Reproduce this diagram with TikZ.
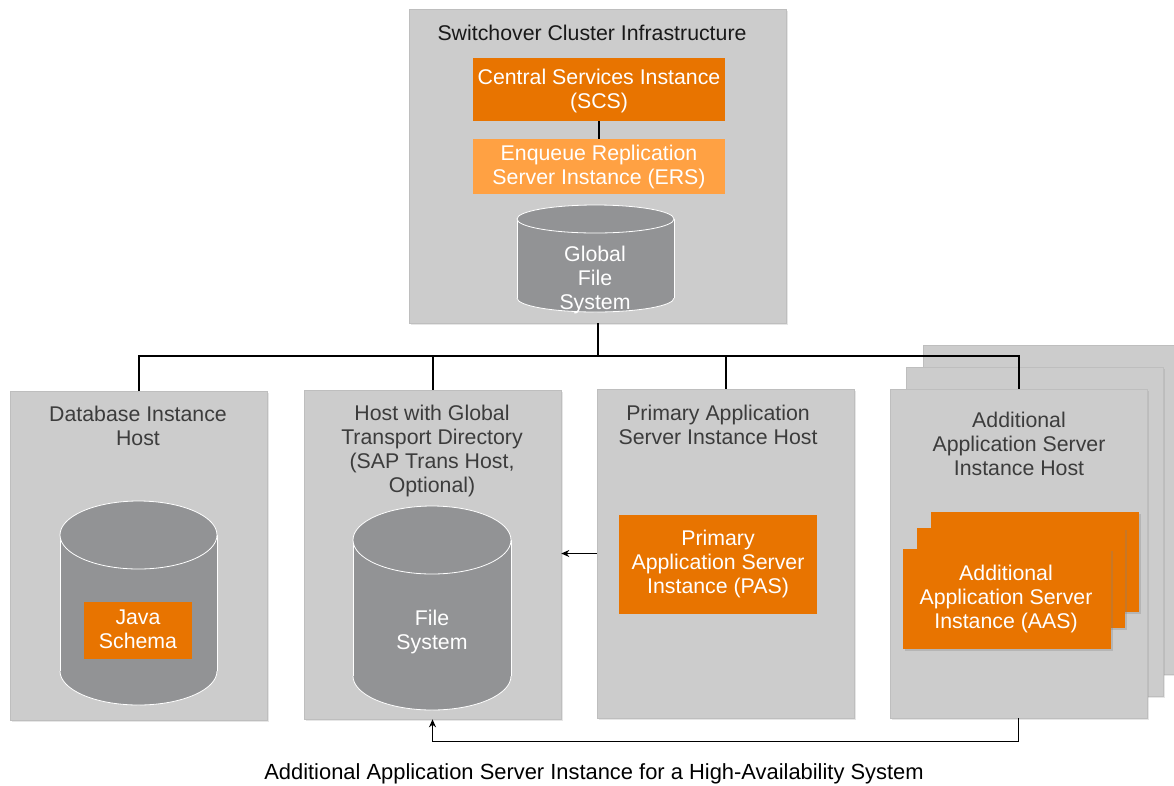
\documentclass[tikz,border=0pt]{standalone}
\usepackage{fontspec}
\setmainfont{Liberation Sans}
\usetikzlibrary{arrows.meta,shadows}
\definecolor{boxgray}{HTML}{CCCCCC}
\definecolor{boxedge}{HTML}{BEBEBE}
\definecolor{cylgray}{HTML}{929395}
\definecolor{orangeD}{HTML}{E87400}
\definecolor{orangeL}{HTML}{FFA143}
\definecolor{titlegray}{HTML}{3C3C3C}
\newcommand\cylshape[5]{%
  \fill[cylgray] (#1,#3) rectangle (#2,#4);
  \fill[cylgray] ({(#1+#2)/2},#4) ellipse [x radius={(#2-#1)/2}, y radius=#5];
  \begin{scope}
    \clip (#1-3,#4) rectangle (#2+3,#4+#5+3);
    \draw[white,line width=0.8pt] ({(#1+#2)/2},#4) ellipse [x radius={(#2-#1)/2}, y radius=#5];
  \end{scope}
  \draw[white,line width=0.8pt] (#1,#3) -- (#1,#4) (#2,#3) -- (#2,#4);
  \filldraw[fill=cylgray,draw=white,line width=0.8pt] ({(#1+#2)/2},#3) ellipse [x radius={(#2-#1)/2}, y radius=#5];
}
\tikzset{
  txt/.style={font=\fontsize{21.3}{24}\selectfont, align=center, inner sep=0pt},
  hostbox/.style={fill=boxgray, draw=boxedge, line width=0.6pt, minimum width=257pt, minimum height=329pt, inner sep=0pt,
    drop shadow={opacity=0.2, shadow xshift=1.5pt, shadow yshift=-1.5pt}},
  orbox/.style={fill=orangeD, inner sep=0pt, text=white},
  stackbox/.style={fill=orangeD, inner sep=0pt, minimum width=208pt, minimum height=100pt,
    drop shadow={opacity=0.3, shadow xshift=2pt, shadow yshift=-2pt}},
  conn/.style={line width=2pt, black},
  arr/.style={line width=1.6pt, black, -{Stealth[length=8pt,width=7pt]}},
}
\begin{document}
\begin{tikzpicture}[x=1pt,y=-1pt]
\useasboundingbox (0,0) rectangle (1174,785);
% top cluster box
\node[hostbox, minimum width=377pt, minimum height=314pt] (top) at (597.5,166) {};
\node[txt, text=black!90] (toptitle) at (592,33) {Switchover Cluster Infrastructure};
\node[orbox, minimum width=252pt, minimum height=63pt] (scs) at (599,89.5) {};
\node[txt, text=white] (scst) at (599,91) {Central Services Instance\\(SCS)};
\node[fill=orangeL, inner sep=0pt, minimum width=252pt, minimum height=55pt] (ers) at (599,166.5) {};
\node[txt, text=white] (erst) at (599,167) {Enqueue Replication\\Server Instance (ERS)};
\draw[conn] (scs.south) -- (ers.north);
\cylshape{517}{674}{219}{298}{14}
\node[txt, text=white] (gfs) at (595,280) {Global\\File\\System};

% host boxes (AAS stack first)
\node[hostbox] (aas3) at (1051.5,510) {};
\node[hostbox] (aas2) at (1034.5,531.5) {};
\node[hostbox] (db) at (138.5,555.5) {};
\node[hostbox] (tr) at (432.5,554.5) {};
\node[hostbox] (pas) at (725.5,553.5) {};
\node[hostbox] (aas) at (1018.5,553.5) {};

\node[txt, text=titlegray] (dbt) at (138,426) {Database Instance\\Host};
\node[txt, text=titlegray] (trt) at (432,450.5) {Host with Global\\Transport Directory\\(SAP Trans Host,\\Optional)};
\node[txt, text=titlegray] (past) at (718,425) {Primary Application\\Server Instance Host};
\node[txt, text=titlegray] (aast) at (1019,444) {Additional\\Application Server\\Instance Host};

% database cylinder
\cylshape{60}{217}{535}{671}{34}
\node[orbox, minimum width=108pt, minimum height=57pt] (java) at (138,630.5) {};
\node[txt, text=white] (javat) at (138,629) {Java\\Schema};

% transport cylinder
\cylshape{353}{511}{540}{676}{34}
\node[txt, text=white] (fs) at (432,632) {File\\System};

% PAS instance
\node[orbox, minimum width=198pt, minimum height=99pt] (pasi) at (718,564.5) {};
\node[txt, text=white] (pasit) at (718,564) {Primary\\Application Server\\Instance (PAS)};

% AAS instances stack
\node[stackbox] (aasi3) at (1035,562) {};
\node[stackbox] (aasi2) at (1021,577.5) {};
\node[stackbox] (aasi) at (1007,599) {};
\node[txt, text=white] (aasit) at (1006,599) {Additional\\Application Server\\Instance (AAS)};

% connectors
\coordinate (bus) at (597.5,356);
\draw[conn] (top.south) -- (bus);
\draw[conn] (db.north) |- (bus);
\draw[conn] (tr.north) |- (bus);
\draw[conn] (pas.north) |- (bus);
\draw[conn] (aas.north) |- (bus);

\draw[arr] (pas.west) -- (pas.west -| tr.east);
\draw[arr] (aas.south) -- ++(0,23) -| (tr.south);

\node[font=\fontsize{21.9}{24}\selectfont, inner sep=0pt] (cap) at (594,774) {Additional Application Server Instance for a High-Availability System};
\end{tikzpicture}
\end{document}
